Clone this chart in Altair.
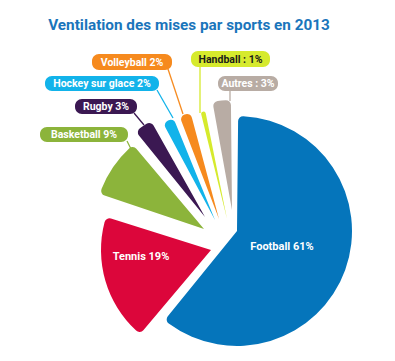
import altair as alt
import pandas as pd

# ---- data ----
sports = ["Football", "Tennis", "Basketball", "Rugby", "Hockey sur glace",
          "Volleyball", "Handball", "Autres"]
shares = [61, 19, 9, 3, 2, 2, 1, 3]
labels = ["Football 61%", "Tennis 19%", "Basketball 9%", "Rugby 3%",
          "Hockey sur glace 2%", "Volleyball 2%", "Handball : 1%", "Autres : 3%"]
title_text = "Ventilation des mises par sports en 2013"

# ---- styles / layout ----
colors = ["#0575bb", "#dc063b", "#8cb43b", "#3b1852", "#12b3ea",
          "#f68a1e", "#d6ea2d", "#b8aca4"]
text_colors = ["white", "white", "white", "white", "white", "white", "#1a1a1a", "white"]
CX, CY = 229, 223               # pie centre in chart pixels
dxs = [0, -26, -33, -32, -22, -18, -10, -5]   # explode offsets
dys = [0, 19, -2, -14, -11, -12, -12, -21]
rads = [115, 110, 110, 110, 110, 110, 110, 110]

# label boxes: x0, x1, y0, y1 (chart pixels); None = label drawn inside the slice
boxes = [None, None, (32, 120, 119, 134), (67, 129, 91, 106), (37, 151, 68, 83),
         (84, 164, 46, 62), (183, 262, 43, 59), (210, 270, 68, 83)]
leaders = [None, None, (119, 133, 124, 143), (126, 105, 136, 117), (149, 82, 165, 110),
           (160, 61, 175, 106), (192, 58, 192, 105), (222, 82, 222, 93)]
inner_pos = [(274, 239), (133, 249)]

W, H = 379, 345

base = pd.DataFrame({"sport": sports, "share": shares, "rank": list(range(len(sports)))})

color_scale = alt.Scale(domain=sports, range=colors)

arcs = (
    alt.Chart(base)
    .transform_window(cum="sum(share)", sort=[alt.SortField("rank")], frame=[None, 0])
    .transform_calculate(
        t0="datum.cum - datum.share",
        t1="datum.cum",
        cx=f"{CX} + {dxs}[datum.rank]",
        cy=f"{CY} + {dys}[datum.rank]",
        r=f"{rads}[datum.rank]",
    )
    .mark_arc(cornerRadius=5, padAngle=0.02)
    .encode(
        theta=alt.Theta("t0:Q", scale=alt.Scale(domain=[0, 100])),
        theta2="t1:Q",
        x=alt.X("cx:Q", scale=None),
        y=alt.Y("cy:Q", scale=None),
        radius=alt.Radius("r:Q", scale=None),
        color=alt.Color("sport:N", scale=color_scale, legend=None),
    )
)

rows = []
for i, s in enumerate(sports):
    if boxes[i] is None:
        continue
    x0, x1, y0, y1 = boxes[i]
    lx0, ly0, lx1, ly1 = leaders[i]
    rows.append(dict(sport=s, label=labels[i], x0=x0, x1=x1, y0=y0, y1=y1,
                     tx=(x0 + x1) / 2, ty=(y0 + y1) / 2 + 0.5, tc=text_colors[i],
                     lx0=lx0, ly0=ly0, lx1=lx1, ly1=ly1))
lab = pd.DataFrame(rows)

leader_lines = alt.Chart(lab).mark_rule(strokeWidth=1.3).encode(
    x=alt.X("lx0:Q", scale=None), y=alt.Y("ly0:Q", scale=None),
    x2="lx1:Q", y2="ly1:Q",
    color=alt.Color("sport:N", scale=color_scale, legend=None),
)

box_rects = alt.Chart(lab).mark_rect(cornerRadius=7).encode(
    x=alt.X("x0:Q", scale=None), x2="x1:Q",
    y=alt.Y("y0:Q", scale=None), y2="y1:Q",
    color=alt.Color("sport:N", scale=color_scale, legend=None),
)

box_text = alt.Chart(lab).mark_text(
    font="Roboto", fontWeight="bold", fontSize=10.5, baseline="middle", align="center"
).encode(
    x=alt.X("tx:Q", scale=None), y=alt.Y("ty:Q", scale=None),
    text="label:N", color=alt.Color("tc:N", scale=None),
)

inner = pd.DataFrame({"label": labels[:2], "x": [p[0] for p in inner_pos],
                      "y": [p[1] for p in inner_pos]})
inner_text = alt.Chart(inner).mark_text(
    font="Roboto", fontWeight="bold", fontSize=11, color="white",
    baseline="middle", align="center"
).encode(x=alt.X("x:Q", scale=None), y=alt.Y("y:Q", scale=None), text="label:N")

title = alt.Chart(pd.DataFrame({"t": [title_text]})).mark_text(
    font="Roboto", fontWeight="bold", fontSize=15.3, color="#1a75bb",
    baseline="middle", align="center"
).encode(x=alt.value(181), y=alt.value(17), text="t:N")

chart = (
    alt.layer(arcs, leader_lines, box_rects, box_text, inner_text, title)
    .properties(width=W, height=H, padding=0, autosize=alt.AutoSizeParams(type="none"))
    .configure_view(stroke=None)
)

chart.save("out.html", embed_options={"renderer": "svg", "actions": False})
